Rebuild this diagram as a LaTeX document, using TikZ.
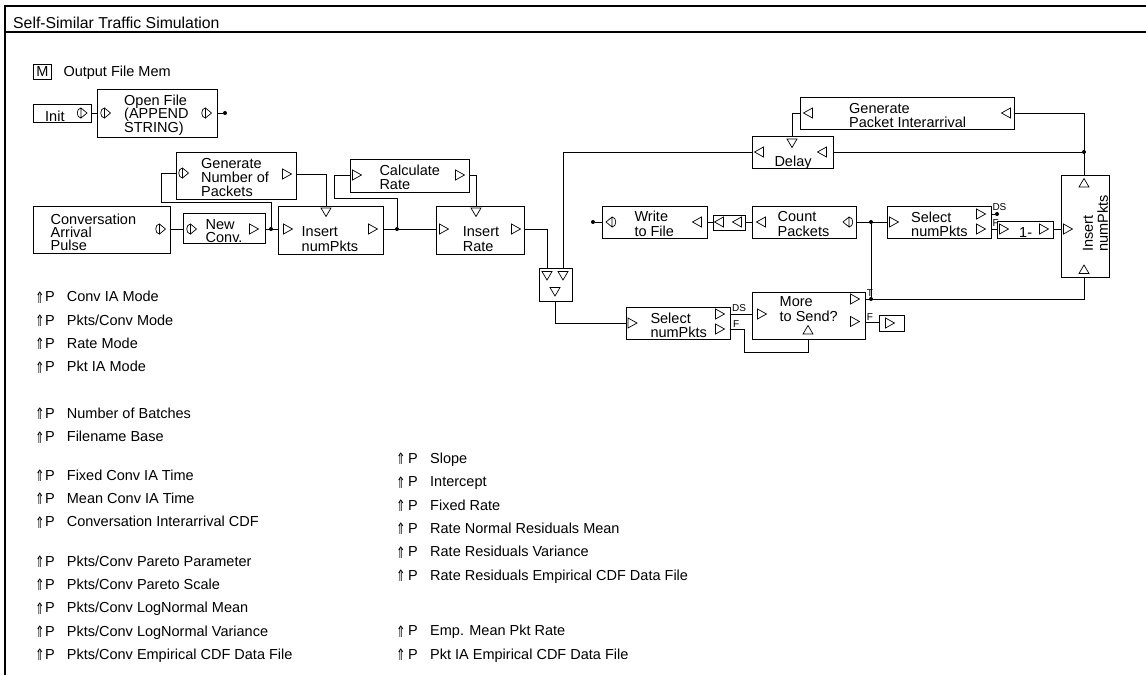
\documentclass[tikz,border=0pt]{standalone}
\usepackage{fontspec}
\setmainfont{Liberation Sans}
\newfontfamily\dejavu{DejaVu Sans}
\newcommand\tf[1]{\fontsize{14.5}{#1}\selectfont}
\newcommand\parrow{\raisebox{-1.4pt}{\resizebox{9.5pt}{11.5pt}{\dejavu ⇑}}}
\newcommand\blk[5]{\node[blk, minimum width={#4-#2}, minimum height={#5-#3}] (#1) at (#2,#3) {};}
\newcommand\symw{10pt}
\newcommand\totw{31.7pt}
\newcommand\prm[4]{\node[txt, font=\tf{16}] (#1) at (#2,#3) {\makebox[\totw][l]{\makebox[\symw][l]{\parrow}P}#4};}
\tikzset{
  blk/.style={draw, line width=0.9pt, inner sep=0, anchor=north west},
  txt/.style={inner sep=0, anchor=base west, align=left},
  pt/.style={line width=0.7pt},
  wire/.style={line width=0.9pt},
  dot/.style={circle, fill, inner sep=0, minimum size=4pt},
  lbl/.style={inner sep=0, anchor=base west, font=\fontsize{10}{11}\selectfont},
  ptR/.pic={\draw[pt] (-4.5,-5) -- (4.5,0) -- (-4.5,5) -- cycle;},
  ptL/.pic={\draw[pt] (4.5,-5) -- (-4.5,0) -- (4.5,5) -- cycle;},
  ptD/.pic={\draw[pt] (-5,-4) -- (5,-4) -- (0,4.5) -- cycle;},
  ptU/.pic={\draw[pt] (-5,4) -- (5,4) -- (0,-4.5) -- cycle;},
  clkR/.pic={\draw[pt] (-1.5,-5) -- (4.5,0) -- (-1.5,5) -- cycle (-1.5,-5) .. controls (-6.5,-5) and (-6.5,5) .. (-1.5,5);},
  clkL/.pic={\draw[pt] (1.5,-5) -- (-4.5,0) -- (1.5,5) -- cycle (1.5,-5) .. controls (6.5,-5) and (6.5,5) .. (1.5,5);},
}
\begin{document}
\begin{tikzpicture}[x=1pt,y=-1pt]
\useasboundingbox (0,0) rectangle (1146,675);
% frame
\draw[line width=1.2pt] (1146,6) -- (5,6) -- (5,675);
\draw[line width=1.2pt] (5,32) -- (1146,32);
\node[txt, font=\fontsize{15.8}{18}\selectfont] (title) at (13,28.3) {Self-Similar Traffic Simulation};
% memory
\node[draw, line width=0.9pt, minimum width=18.4pt, minimum height=14.7pt, inner sep=0, font=\tf{16}] (mem) at (42.5,71.7) {M};
\node[txt, font=\tf{16}] (memt) at (63.3,76) {Output File Mem};
% blocks (multi-line texts are placed by the baseline of their last line)
\blk{init}{33}{104}{91}{122}
\node[txt, font=\tf{14}] (initt) at (45,121) {Init};
\pic at (82.5,113) {clkR};
\coordinate (init-o) at (91,113);

\blk{openf}{97}{89}{217}{137}
\node[txt, font=\tf{13.7}] (openft) at (124,132.4) {Open File\\(APPEND\\STRING)};
\pic at (106,113) {clkR};
\pic at (207,113) {clkR};
\coordinate (openf-i) at (97,113);
\coordinate (openf-o) at (217,113);
\node[dot] (d-open) at (225,113) {};

\blk{gennp}{176}{152}{296}{199}
\node[txt, font=\tf{14.2}] (gennpt) at (201,196.7) {Generate\\Number of\\Packets};
\pic at (184,173) {clkR};
\pic at (287,174) {ptR};
\coordinate (gennp-i) at (176,173);
\coordinate (gennp-o) at (296,174);

\blk{calc}{350}{159}{469}{192}
\node[txt, font=\tf{14}] (calct) at (379.3,189) {Calculate\\Rate};
\pic at (357,175) {ptR};
\pic at (460,175) {ptR};
\coordinate (calc-i) at (350,175);
\coordinate (calc-o) at (469,175);

\blk{cap}{33}{206}{170}{253}
\node[txt, font=\tf{13}] (capt) at (50.5,250) {Conversation\\Arrival\\Pulse};
\pic at (161,229) {clkR};
\coordinate (cap-o) at (170,229);

\blk{newc}{183}{213}{265}{243}
\node[txt, font=\tf{13.4}] (newct) at (205.5,242.7) {New\\Conv.};
\pic at (192,229) {clkR};
\pic at (254,229) {ptR};
\coordinate (newc-i) at (183,229);
\coordinate (newc-o) at (265,229);

\blk{insnp}{278}{206}{383}{254}
\node[txt, font=\tf{15}] (insnpt) at (301.5,251.7) {Insert\\numPkts};
\pic at (288,229) {ptR};
\pic at (326,212) {ptD};
\pic at (373,229) {ptR};
\coordinate (insnp-i) at (278,229);
\coordinate (insnp-t) at (326,206);
\coordinate (insnp-o) at (383,229);
\node[dot] (d-nc) at (271,229) {};

\blk{insr}{436}{206}{524}{254}
\node[txt, font=\tf{15}] (insrt) at (462.7,251.7) {Insert\\Rate};
\pic at (444,229) {ptR};
\pic at (476,212) {ptD};
\pic at (516,229) {ptR};
\coordinate (insr-i) at (436,229);
\coordinate (insr-t) at (476,206);
\coordinate (insr-o) at (524,229);
\node[dot] (d-np) at (397,229) {};

\blk{merge}{539}{268}{572}{301}
\pic at (547,275.5) {ptD};
\pic at (563,275.5) {ptD};
\pic at (555,291.5) {ptD};
\coordinate (m-t1) at (547,268);
\coordinate (m-t2) at (563,268);
\coordinate (m-b) at (555,301);

\blk{delay}{752}{136}{833}{168}
\node[txt, font=\tf{14}] (delayt) at (774.3,166) {Delay};
\pic at (792,143) {ptD};
\pic at (759,152) {ptL};
\pic at (822,152) {ptL};
\coordinate (delay-t) at (792,136);
\coordinate (delay-l) at (752,152);
\coordinate (delay-r) at (833,152);

\blk{genpi}{800}{97}{1014}{129}
\node[txt, font=\tf{14}] (genpit) at (849,127.3) {Generate\\Packet Interarrival};
\pic at (808,113) {ptL};
\pic at (1006,113) {ptL};
\coordinate (genpi-l) at (800,113);
\coordinate (genpi-r) at (1014,113);

\blk{write}{602}{206}{707}{238}
\node[txt, font=\tf{14.3}] (writet) at (634.3,236) {Write\\to File};
\pic at (610.5,222) {clkL};
\pic at (697,222) {ptL};
\coordinate (write-l) at (602,222);
\coordinate (write-r) at (707,222);
\node[dot] (d-w) at (593,222) {};

\blk{dbl}{713}{215}{745}{230}
\pic at (719,222) {ptL};
\pic at (737,222) {ptL};
\coordinate (dbl-l) at (713,222);
\coordinate (dbl-r) at (745,222);

\blk{count}{752}{206}{856}{238}
\node[txt, font=\tf{14.3}] (countt) at (777.5,236) {Count\\Packets};
\pic at (761,222) {ptL};
\pic at (847.5,222) {clkL};
\coordinate (count-l) at (752,222);
\coordinate (count-r) at (856,222);

\blk{seltop}{887}{206}{991}{238}
\node[txt, font=\tf{14}] (seltopt) at (911,236.7) {Select\\numPkts};
\pic at (894,222) {ptR};
\pic at (981,214) {ptR};
\pic at (981,229) {ptR};
\coordinate (st-i) at (887,222);
\coordinate (st-ds) at (991,214);
\coordinate (st-f) at (991,229);
\node[lbl] (st-dsl) at (992.3,210.7) {DS};
\node[lbl] (st-fl) at (992.3,226) {F};
\node[dot] (d-ds) at (997,214) {};
\node[dot] (d-cnt) at (871,222) {};

\blk{onem}{997}{221}{1053}{238}
\pic at (1004,229) {ptR};
\node[txt, font=\tf{14}] (onemt) at (1019,237) {1-};
\pic at (1044,229) {ptR};
\coordinate (onem-i) at (997,229);
\coordinate (onem-o) at (1053,229);

\blk{ins2}{1061}{175}{1109}{277}
\node[txt, font=\tf{15}, rotate=90] (ins2t) at (1107.8,251.7) {Insert\\numPkts};
\pic at (1084,183) {ptU};
\pic at (1084,269.5) {ptU};
\pic at (1068,229) {ptR};
\coordinate (i2-t) at (1084,175);
\coordinate (i2-b) at (1084,277);
\coordinate (i2-l) at (1061,229);
\node[dot] (d-pi) at (1084,152) {};

\blk{more}{752}{292}{865}{339}
\node[txt, font=\tf{15}] (moret) at (779.5,321.7) {More\\to Send?};
\pic at (762,314) {ptR};
\pic at (855,299) {ptR};
\pic at (855,321.5) {ptR};
\pic at (808,330) {ptU};
\coordinate (more-i) at (752,314);
\coordinate (more-t) at (865,299);
\coordinate (more-f) at (865,322);
\coordinate (more-b) at (808,339);
\node[lbl] (more-tl) at (866.7,296.7) {T};
\node[lbl] (more-fl) at (866.7,320.7) {F};
\node[dot] (d-T) at (871,299) {};

\blk{fbox}{879}{315}{904}{331}
\pic at (890,323) {ptR};
\coordinate (fbox-i) at (879,322);

\blk{selbot}{626}{307}{730}{339}
\node[txt, font=\tf{14}] (selbott) at (650.3,337.3) {Select\\numPkts};
\pic at (632.5,323) {ptR};
\pic at (720,314) {ptR};
\pic at (720,329) {ptR};
\coordinate (sb-i) at (626,323);
\coordinate (sb-ds) at (730,314);
\coordinate (sb-f) at (730,329);
\node[lbl] (sb-dsl) at (732,311.7) {DS};
\node[lbl] (sb-fl) at (733,327) {F};

% connectors
\draw[wire] (init-o) -- (openf-i);
\draw[wire] (openf-o) -- (d-open);
\draw[wire] (cap-o) -- (newc-i);
\draw[wire] (newc-o) -- (insnp-i);
\draw[wire] (d-nc) |- (161,202) |- (gennp-i);
\draw[wire] (gennp-o) -| (insnp-t);
\draw[wire] (insnp-o) -- (insr-i);
\draw[wire] (d-np) |- (334,198) |- (calc-i);
\draw[wire] (calc-o) -| (insr-t);
\draw[wire] (insr-o) -| (m-t1);
\draw[wire] (delay-l) -| (m-t2);
\draw[wire] (m-b) |- (sb-i);
\draw[wire] (sb-ds) -- (more-i);
\draw[wire] (sb-f) -| (744,352) -| (more-b);
\draw[wire] (more-t) -| (i2-b);
\draw[wire] (more-f) -- (fbox-i);
\draw[wire] (count-r) -- (st-i);
\draw[wire] (d-cnt) -- (d-T);
\draw[wire] (st-ds) -- (d-ds);
\draw[wire] (st-f) -- (onem-i);
\draw[wire] (onem-o) -- (i2-l);
\draw[wire] (i2-t) |- (genpi-r);
\draw[wire] (delay-r) -- (d-pi);
\draw[wire] (genpi-l) -| (delay-t);
\draw[wire] (count-l) -- (dbl-r);
\draw[wire] (dbl-l) -- (write-r);
\draw[wire] (d-w) -- (write-l);

% parameters, left column
\prm{p1}{35}{301.7}{Conv IA Mode}
\prm{p2}{35}{325}{Pkts/Conv Mode}
\prm{p3}{35}{348.3}{Rate Mode}
\prm{p4}{35}{371.7}{Pkt IA Mode}
\prm{p5}{35}{418.3}{Number of Batches}
\prm{p6}{35}{441.7}{Filename Base}
\prm{p7}{35}{480}{Fixed Conv IA Time}
\prm{p8}{35}{503.3}{Mean Conv IA Time}
\prm{p9}{35}{526.7}{Conversation Interarrival CDF}
\prm{p10}{35}{566}{Pkts/Conv Pareto Parameter}
\prm{p11}{35}{589.3}{Pkts/Conv Pareto Scale}
\prm{p12}{35}{612.7}{Pkts/Conv LogNormal Mean}
\prm{p13}{35}{636}{Pkts/Conv LogNormal Variance}
\prm{p14}{35}{659.3}{Pkts/Conv Empirical CDF Data File}
% right column
\renewcommand\symw{12pt}
\renewcommand\totw{34pt}
\prm{q1}{396}{463.3}{Slope}
\prm{q2}{396}{486.7}{Intercept}
\prm{q3}{396}{510}{Fixed Rate}
\prm{q4}{396}{533.3}{Rate Normal Residuals Mean}
\prm{q5}{396}{556.7}{Rate Residuals Variance}
\prm{q6}{396}{580}{Rate Residuals Empirical CDF Data File}
\prm{q7}{396}{635.7}{Emp. Mean Pkt Rate}
\prm{q8}{396}{659}{Pkt IA Empirical CDF Data File}
\end{tikzpicture}
\end{document}
